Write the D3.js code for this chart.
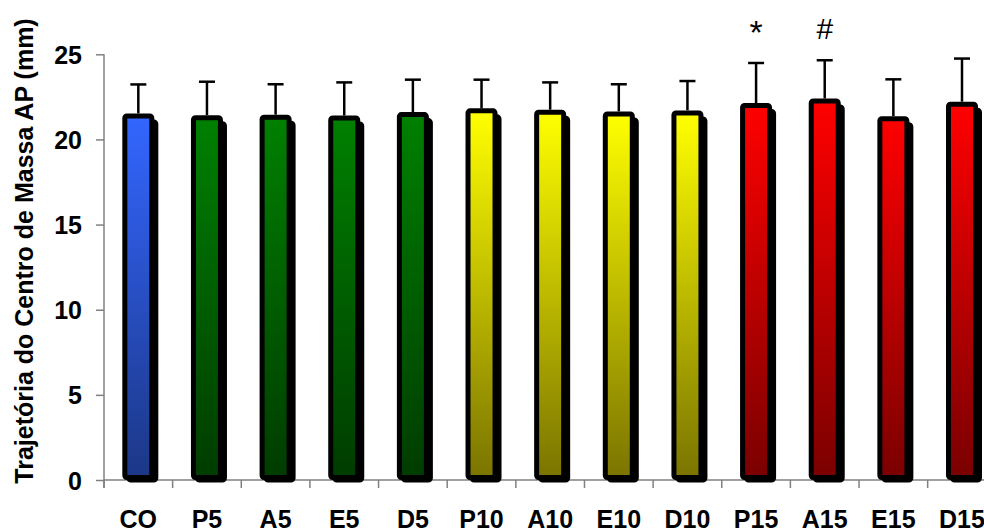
<!DOCTYPE html>
<html>
<head>
<meta charset="utf-8">
<script src="https://cdn.jsdelivr.net/npm/d3@7"></script>
<style>
  html, body { margin: 0; padding: 0; background: #fff; }
  svg { display: block; }
  text { font-family: "Liberation Sans", Arial, sans-serif; }
</style>
</head>
<body>
<svg id="chart" width="984" height="532"></svg>
<script>
// Mean AP centre-of-mass trajectory (mm) per condition, with SD
const categories = ["CO", "P5", "A5", "E5", "D5", "P10", "A10", "E10", "D10", "P15", "A15", "E15", "D15"];
const means = [21.38, 21.28, 21.31, 21.26, 21.46, 21.68, 21.60, 21.50, 21.56, 21.99, 22.26, 21.22, 22.07];
const sds   = [1.85, 2.11, 1.93, 2.09, 2.05, 1.83, 1.75, 1.74, 1.87, 2.50, 2.39, 2.31, 2.68];
const groups = ["co", "g5", "g5", "g5", "g5", "g10", "g10", "g10", "g10", "g15", "g15", "g15", "g15"];
const marks = ["", "", "", "", "", "", "", "", "", "*", "#", "", ""];
const yTicks = [0, 5, 10, 15, 20, 25];
const yTitle = "Trajetória do Centro de Massa AP (mm)";

// Gradient end colours for each group (top, bottom)
const groupColors = {
  co:  ["#3366ff", "#1c3786"],
  g5:  ["#008000", "#003c00"],
  g10: ["#ffff00", "#7a7400"],
  g15: ["#ff0000", "#7a0000"]
};

const svg = d3.select("#chart");
const x0 = 104, y0 = 480, yTop = 54.3;
const bandW = 68.64;

const x = d3.scaleBand().domain(categories).range([x0, x0 + bandW * categories.length]).padding(0);
const y = d3.scaleLinear().domain([0, 25]).range([y0, yTop]);

// vertical gradients
const defs = svg.append("defs");
Object.entries(groupColors).forEach(([k, [c1, c2]]) => {
  const g = defs.append("linearGradient").attr("id", "grad-" + k)
    .attr("x1", 0).attr("y1", 0).attr("x2", 0).attr("y2", 1);
  g.append("stop").attr("offset", "0%").attr("stop-color", c1);
  g.append("stop").attr("offset", "100%").attr("stop-color", c2);
});

// y axis
const yAxis = svg.append("g").attr("transform", `translate(${x0},0)`)
  .call(d3.axisLeft(y).tickValues(yTicks).tickSize(8).tickSizeOuter(0).tickFormat(d3.format("d")));
yAxis.select(".domain").attr("stroke", "#808080").attr("stroke-width", 1.5)
  .attr("d", `M0,${yTop}V${y0 + 8}`);
yAxis.selectAll(".tick line").attr("stroke", "#808080").attr("stroke-width", 1.5);
yAxis.selectAll(".tick text").attr("x", -22).attr("dy", "0.36em")
  .attr("font-size", 25).attr("font-weight", "bold").attr("fill", "#000")
  .attr("font-family", "'Liberation Sans', Arial, sans-serif");

// x axis
const xAxis = svg.append("g").attr("transform", `translate(0,${y0})`);
xAxis.append("line").attr("x1", x0).attr("x2", 984).attr("y1", 0).attr("y2", 0)
  .attr("stroke", "#808080").attr("stroke-width", 1.5);
xAxis.selectAll("line.xt").data(categories)
  .enter().append("line").attr("class", "xt")
  .attr("x1", d => x(d) + bandW).attr("x2", d => x(d) + bandW)
  .attr("y1", 0).attr("y2", 8).attr("stroke", "#808080").attr("stroke-width", 1.5);
xAxis.append("line").attr("x1", x0).attr("x2", x0).attr("y1", 0).attr("y2", 8)
  .attr("stroke", "#808080").attr("stroke-width", 1.5);
xAxis.selectAll("text").data(categories).enter().append("text")
  .attr("x", d => x(d) + bandW / 2).attr("y", 48)
  .attr("text-anchor", "middle").attr("font-size", 25).attr("font-weight", "bold")
  .attr("fill", "#000").text(d => d);

// bars
const barW = 27;
const data = categories.map((c, i) => ({ c, m: means[i], s: sds[i], g: groups[i], mark: marks[i] }));
const bars = svg.append("g");

// drop shadow
bars.selectAll("rect.shadow").data(data).enter().append("rect").attr("class", "shadow")
  .attr("x", d => x(d.c) + bandW / 2 - barW / 2 + 4)
  .attr("y", d => y(d.m) + 6)
  .attr("width", barW)
  .attr("height", d => y0 - y(d.m) - 6)
  .attr("fill", "#000").attr("stroke", "#000").attr("stroke-width", 5).attr("rx", 2);

bars.selectAll("rect.bar").data(data).enter().append("rect").attr("class", "bar")
  .attr("x", d => x(d.c) + bandW / 2 - barW / 2)
  .attr("y", d => y(d.m))
  .attr("width", barW)
  .attr("height", d => y0 - 2.5 - y(d.m))
  .attr("fill", d => `url(#grad-${d.g})`)
  .attr("stroke", "#000").attr("stroke-width", 5).attr("rx", 2);

// error bars (upper only)
const err = svg.append("g").attr("stroke", "#000").attr("stroke-width", 2.5);
err.selectAll("line.v").data(data).enter().append("line")
  .attr("x1", d => x(d.c) + bandW / 2).attr("x2", d => x(d.c) + bandW / 2)
  .attr("y1", d => y(d.m) - 2.5).attr("y2", d => y(d.m + d.s));
err.selectAll("line.h").data(data).enter().append("line")
  .attr("x1", d => x(d.c) + bandW / 2 - 8).attr("x2", d => x(d.c) + bandW / 2 + 8)
  .attr("y1", d => y(d.m + d.s)).attr("y2", d => y(d.m + d.s));

// significance marks
svg.append("g").selectAll("text").data(data.filter(d => d.mark)).enter().append("text")
  .attr("x", d => x(d.c) + bandW / 2)
  .attr("y", d => d.mark === "*" ? 44 : 39)
  .attr("text-anchor", "middle")
  .attr("font-family", "'Liberation Serif', 'Times New Roman', serif")
  .attr("font-size", d => d.mark === "*" ? 34 : 30)
  .attr("fill", "#000").text(d => d.mark);

// y axis title
svg.append("text")
  .attr("transform", "translate(33,251) rotate(-90)")
  .attr("text-anchor", "middle").attr("font-size", 25).attr("font-weight", "bold")
  .attr("fill", "#000").text(yTitle);
</script>
</body>
</html>
